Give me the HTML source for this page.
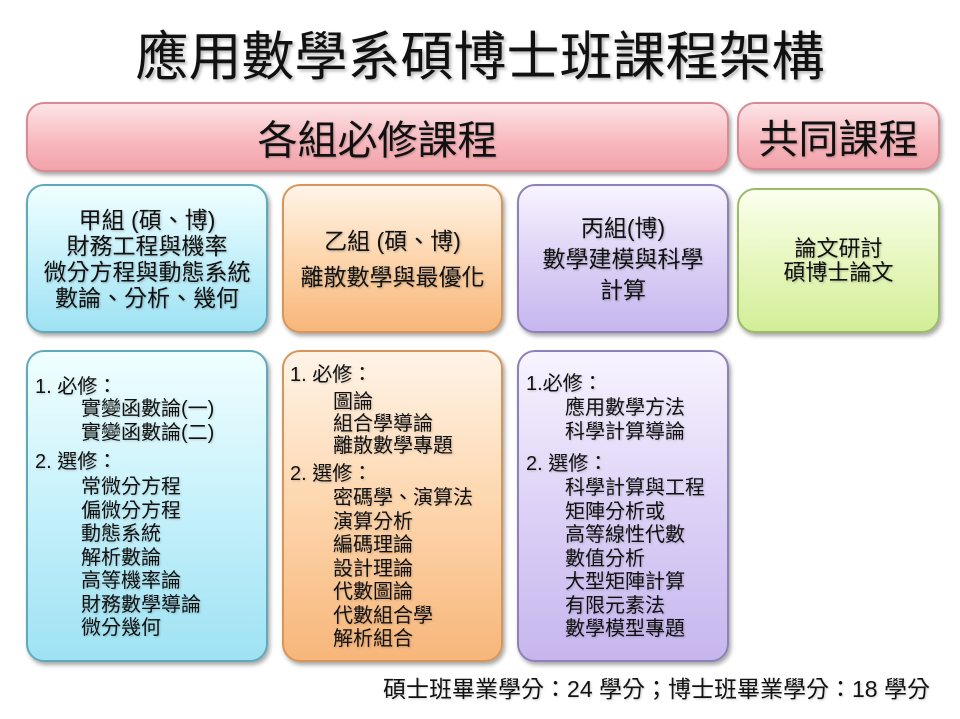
<!DOCTYPE html>
<html><head><meta charset="utf-8"><style>
body{margin:0;width:960px;height:719px;background:#fff;position:relative;overflow:hidden;font-family:"Liberation Sans","Noto Sans CJK TC",sans-serif;color:#111}
.b{position:absolute;border-radius:18px;box-sizing:border-box;box-shadow:2px 3px 4px rgba(0,0,0,.35)}
.c{display:flex;flex-direction:column;justify-content:center;align-items:center;text-align:center;text-shadow:1px 1px 2px rgba(0,0,0,.25)}
.t{position:absolute;font-size:20px;line-height:23.5px;white-space:nowrap;text-shadow:1px 1px 2px rgba(0,0,0,.2)}
.pink{background:linear-gradient(#fce4e6,#f7b7bd 60%,#f2a3ab);border:2px solid #d98a92}
.blue{background:linear-gradient(#f0ffff,#c6f1fb 50%,#9fe2f3);border:2px solid #5fa9bb}
.org{background:linear-gradient(#fff4e8,#fdd6ad 50%,#f7b67a);border:2px solid #d8955a}
.pur{background:linear-gradient(#f8f4ff,#ddd2f6 50%,#c6b6ee);border:2px solid #8e80b8}
.grn{background:linear-gradient(#fbffee,#e7f7bf 50%,#d2ee98);border:2px solid #9bbb66}
</style></head><body>
<div style="position:absolute;left:0;width:960px;top:26px;text-align:center;font-size:53px;line-height:64px;text-shadow:2px 2px 3px rgba(0,0,0,.3)">應用數學系碩博士班課程架構</div>

<div class="b pink c" style="left:26px;top:102px;width:703px;height:70px;font-size:40px">各組必修課程</div>
<div class="b pink c" style="left:737px;top:102px;width:203px;height:68px;font-size:40px">共同課程</div>

<div class="b blue c" style="left:26px;top:184px;width:242px;height:149px;font-size:23px;line-height:26px">甲組 (碩、博)<br>財務工程與機率<br>微分方程與動態系統<br>數論、分析、幾何</div>
<div class="b org c" style="left:282px;top:184px;width:221px;height:149px;font-size:23px;line-height:36px">乙組 (碩、博)<br>離散數學與最優化</div>
<div class="b pur c" style="left:517px;top:184px;width:212px;height:149px;font-size:23px;line-height:26px">丙組(博)<br><span style="line-height:36px">數學建模與科學</span>計算</div>
<div class="b grn c" style="left:737px;top:188px;width:203px;height:145px;font-size:22px;line-height:24px">論文研討<br>碩博士論文</div>

<div class="b blue" style="left:26px;top:350px;width:242px;height:312px"></div>
<div class="b org" style="left:282px;top:350px;width:221px;height:312px"></div>
<div class="b pur" style="left:517px;top:350px;width:212px;height:312px"></div>

<div class="t" style="left:35px;top:376px">1.&nbsp;必修：</div>
<div class="t" style="left:81px;top:398px">實變函數論(一)<br>實變函數論(二)</div>
<div class="t" style="left:35px;top:451px">2.&nbsp;選修：</div>
<div class="t" style="left:81px;top:476px">常微分方程<br>偏微分方程<br>動態系統<br>解析數論<br>高等機率論<br>財務數學導論<br>微分幾何</div>

<div class="t" style="left:290px;top:364px">1. 必修：</div>
<div class="t" style="left:333px;top:391px;line-height:22px">圖論<br>組合學導論<br>離散數學專題</div>
<div class="t" style="left:290px;top:463px">2. 選修：</div>
<div class="t" style="left:333px;top:487px">密碼學、演算法<br>演算分析<br>編碼理論<br>設計理論<br>代數圖論<br>代數組合學<br>解析組合</div>

<div class="t" style="left:526px;top:373px">1.必修：</div>
<div class="t" style="left:565px;top:397px">應用數學方法<br>科學計算導論</div>
<div class="t" style="left:526px;top:453px">2. 選修：</div>
<div class="t" style="left:565px;top:477px">科學計算與工程<br>矩陣分析或<br>高等線性代數<br>數值分析<br>大型矩陣計算<br>有限元素法<br>數學模型專題</div>

<div class="t" style="right:30px;top:675px;font-size:23px;line-height:28px">碩士班畢業學分：24 學分；博士班畢業學分：18 學分</div>
</body></html>
